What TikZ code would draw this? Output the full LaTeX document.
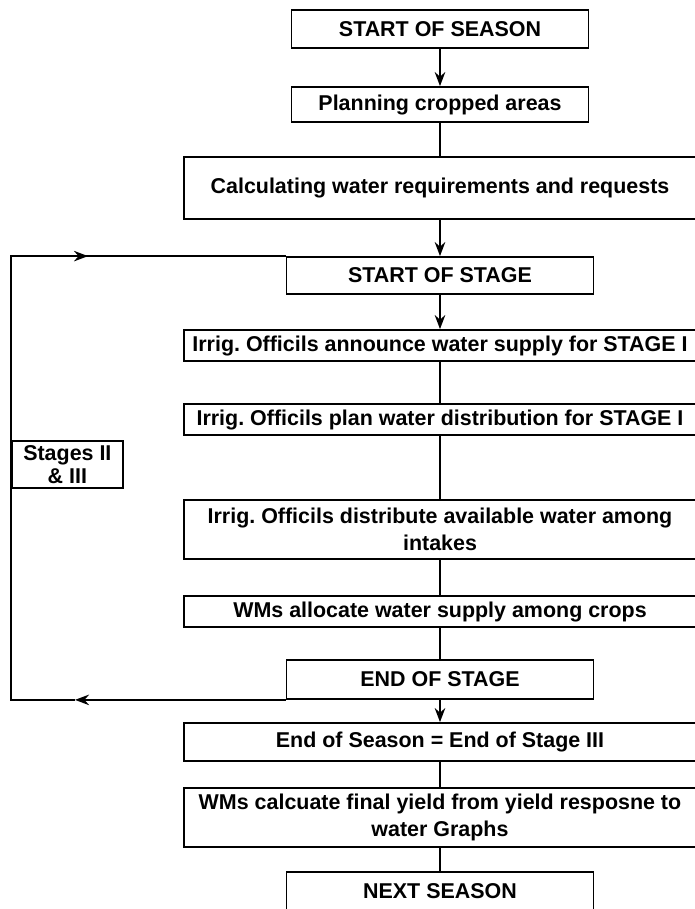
\documentclass[tikz,border=0pt]{standalone}
\usepackage{fontspec}
\setsansfont{Liberation Sans}
\usetikzlibrary{arrows.meta,positioning}
\frenchspacing

\begin{document}
\begin{tikzpicture}[>={Stealth[length=8pt,width=6pt]}, on grid, line width=1pt,
  font=\sffamily\bfseries\fontsize{12.2}{15}\selectfont,
  proc/.style={rectangle, draw, inner sep=1pt, align=center},
  short/.style={proc, minimum width=5.94cm},
  mid/.style={proc, minimum width=6.14cm},
  wide/.style={proc, minimum width=10.24cm}]
  \useasboundingbox (0,0) rectangle (13.88,-18.18);
  \node[short, minimum height=0.76cm] (SEASON) at (8.8,-0.58) {START OF SEASON};
  \node[short, minimum height=0.70cm] (CROPS) [below=1.51cm of SEASON] {Planning cropped areas};
  \node[wide, minimum height=1.24cm] (CALC) [below=1.67cm of CROPS] {Calculating water requirements and requests};
  \node[mid, minimum height=0.74cm] (STAGE) [below=1.75cm of CALC] {START OF STAGE};
  \node[wide, minimum height=0.62cm] (ANNOUNCE) [below=1.40cm of STAGE] {Irrig. Officils announce water supply for STAGE I};
  \node[wide, minimum height=0.62cm] (PLAN) [below=1.48cm of ANNOUNCE] {Irrig. Officils plan water distribution for STAGE I};
  \node[wide, minimum height=1.18cm] (DISTRIB) [below=2.20cm of PLAN] {Irrig. Officils distribute available water among\\intakes};
  \node[wide, minimum height=0.62cm] (ALLOC) [below=1.64cm of DISTRIB] {WMs allocate water supply among crops};
  \node[mid, minimum height=0.78cm] (ENDSTAGE) [below=1.36cm of ALLOC] {END OF STAGE};
  \node[wide, minimum height=0.76cm] (ENDSEASON) [below=1.25cm of ENDSTAGE] {End of Season = End of Stage III};
  \node[wide, minimum height=1.18cm] (YIELD) [below=1.51cm of ENDSEASON] {WMs calcuate final yield from yield resposne to\\water Graphs};
  \node[mid, minimum height=0.78cm] (NEXT) [below=1.48cm of YIELD] {NEXT SEASON};
  \node[proc, minimum width=2.22cm, minimum height=0.94cm, anchor=west,
    font=\sffamily\bfseries\fontsize{12.2}{13}\selectfont] (REPEAT) at (0.22,-9.29) {Stages II\\\& III};
  \path[->]
    (SEASON) edge (CROPS)
    (CROPS) edge[-] (CALC)
    (CALC) edge (STAGE)
    (STAGE) edge (ANNOUNCE)
    (ANNOUNCE) edge[-] (PLAN)
    (PLAN) edge[-] (DISTRIB)
    (DISTRIB) edge[-] (ALLOC)
    (ALLOC) edge[-] (ENDSTAGE)
    (ENDSTAGE) edge (ENDSEASON)
    (ENDSEASON) edge[-] (YIELD)
    (YIELD) edge[-] (NEXT);
  % loop back for stages II and III
  \coordinate (loopx) at (0.22,0);
  \coordinate (tipL) at (1.5,0);
  \coordinate (tipR) at (1.76,0);
  \draw[->] (ENDSTAGE.south west) -- (ENDSTAGE.south west -| tipL);
  \draw (ENDSTAGE.south west -| tipL) -- (ENDSTAGE.south west -| loopx)
    -- (STAGE.north west -| loopx) -- (STAGE.north west);
  \draw[->] (STAGE.north west -| loopx) -- (STAGE.north west -| tipR);
\end{tikzpicture}
\end{document}
